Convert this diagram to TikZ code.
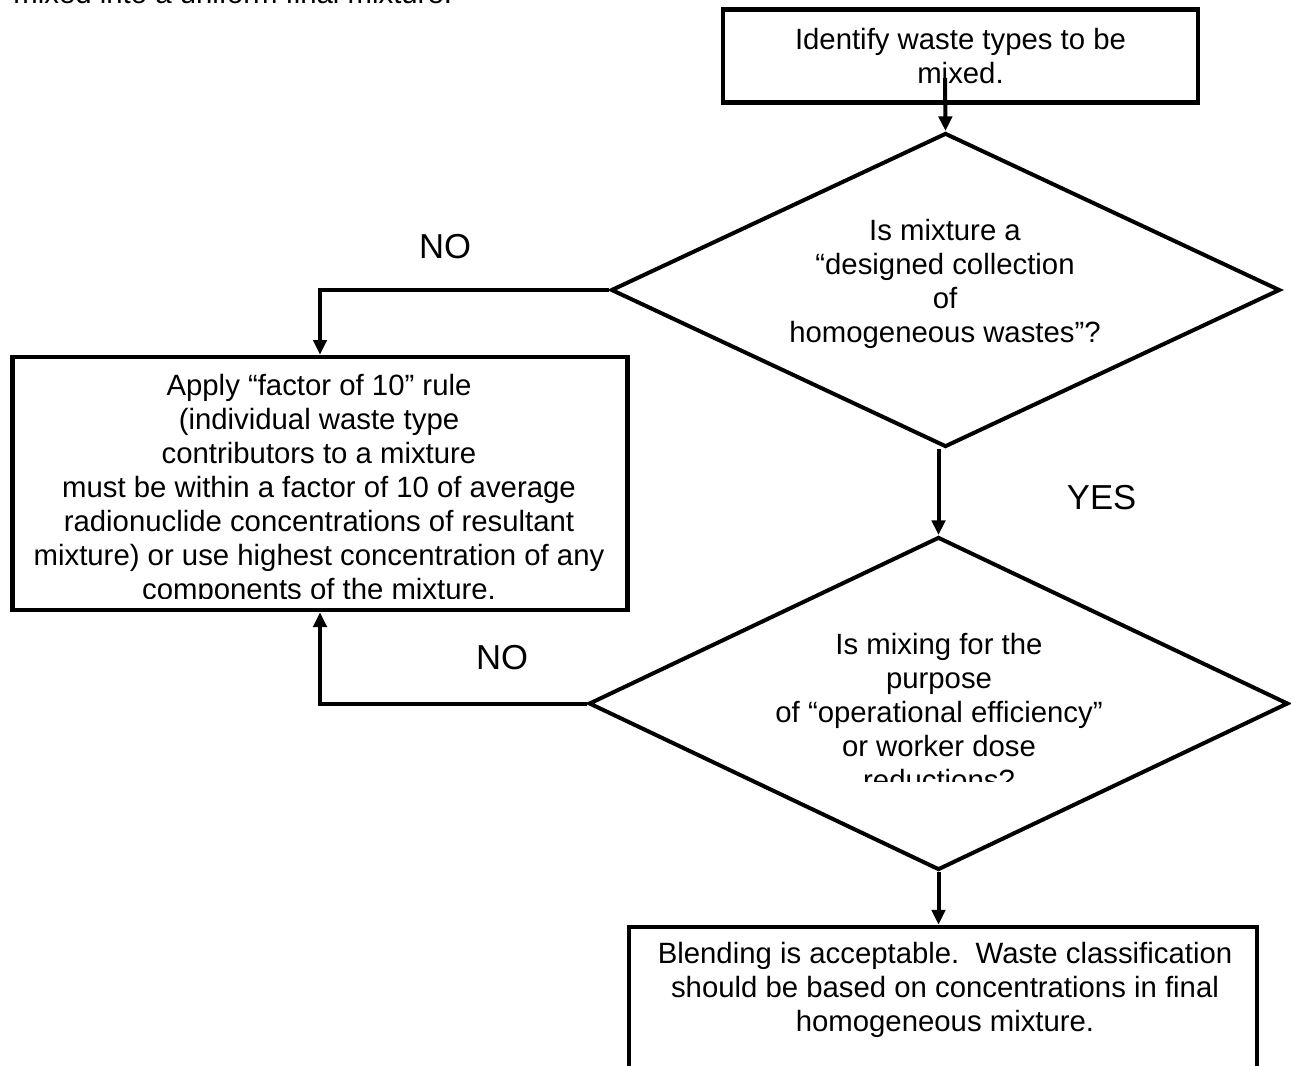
\documentclass[tikz,border=0pt]{standalone}
\usepackage{fontspec}
\setmainfont{Liberation Sans}
\usetikzlibrary{shapes.geometric,arrows.meta}
\tikzset{every picture/.style={line width=0.75pt}}
\tikzset{
  flowbox/.style={draw, rectangle, line width=3.5pt, inner sep=0pt},
  decision/.style={draw, diamond, line width=3pt, inner sep=0pt},
  flowtext/.style={inner sep=0pt, align=center, font=\fontsize{22}{25.5}\selectfont},
  answer/.style={inner sep=0pt, font=\fontsize{26}{30}\selectfont},
  flowarrow/.style={line width=3pt, -{Triangle[length=11pt,width=10pt]}},
}
\begin{document}
\begin{tikzpicture}[x=0.75pt,y=0.75pt,yscale=-1,xscale=1]
\useasboundingbox (0,0) rectangle (1291,1066);
\clip (0,0) rectangle (1291,1066);

% Text Node
\node[flowtext, anchor=base west] (intro) at (13,4) {mixed into a uniform final mixture.};

%Shape: Rectangle
\node[flowbox, minimum width=356.25pt, minimum height=69.4pt, flowtext] (identify) at (960.5,56) {Identify waste types to be\\mixed.};
%Shape: Diamond
\node[decision, minimum width=501.75pt, minimum height=235.5pt] (mixq) at (945.5,290) {};
%Shape: Rectangle
\node[flowbox, minimum width=461.6pt, minimum height=189.75pt] (apply) at (320,483.5) {};
%Shape: Diamond
\node[decision, minimum width=524.5pt, minimum height=249.75pt] (purposeq) at (938.5,703.5) {};
%Shape: Rectangle
\node[flowbox, minimum width=471pt, minimum height=130pt, anchor=north] (blend) at (943,924.6) {};

% Text Node
\node[flowtext] (mixtxt) at (945,284) {Is mixture a\\“designed collection\\of\\homogeneous wastes”?};
% Text Node
\begin{scope}
\clip (0,0) rectangle (1291,598);
\node[flowtext] (applytxt) at (319,490) {Apply “factor of 10” rule\\(individual waste type\\contributors to a mixture\\must be within a factor of 10 of average\\radionuclide concentrations of resultant\\mixture) or use highest concentration of any\\components of the mixture.};
\end{scope}
% Text Node
\begin{scope}
\clip (0,0) rectangle (1291,781);
\node[flowtext] (purposetxt) at (939,712) {Is mixing for the\\purpose\\of “operational efficiency”\\or worker dose\\reductions?};
\end{scope}
% Text Node
\node[flowtext] (blendtxt) at (945,990) {Blending is acceptable.\ \ Waste classification\\should be based on concentrations in final\\homogeneous mixture.};

% Text Node
\node[answer] (noleft) at (445,247) {NO};
% Text Node
\node[answer] (noback) at (502,658) {NO};
% Text Node
\node[answer] (yes) at (1101.6,497.6) {YES};

%Straight Lines
\coordinate (idtail) at (945,78);
\draw[flowarrow] (idtail) -- (mixq.north);
%Straight Lines
\draw[flowarrow] (mixq.west) -| (apply.north);
%Straight Lines
\draw[flowarrow] (purposeq.north |- mixq.south) -- (purposeq.north);
%Straight Lines
\draw[flowarrow] (purposeq.west) -| (apply.south);
%Straight Lines
\draw[flowarrow] (purposeq.south) -- (purposeq.south |- blend.north);

\end{tikzpicture}
\end{document}
